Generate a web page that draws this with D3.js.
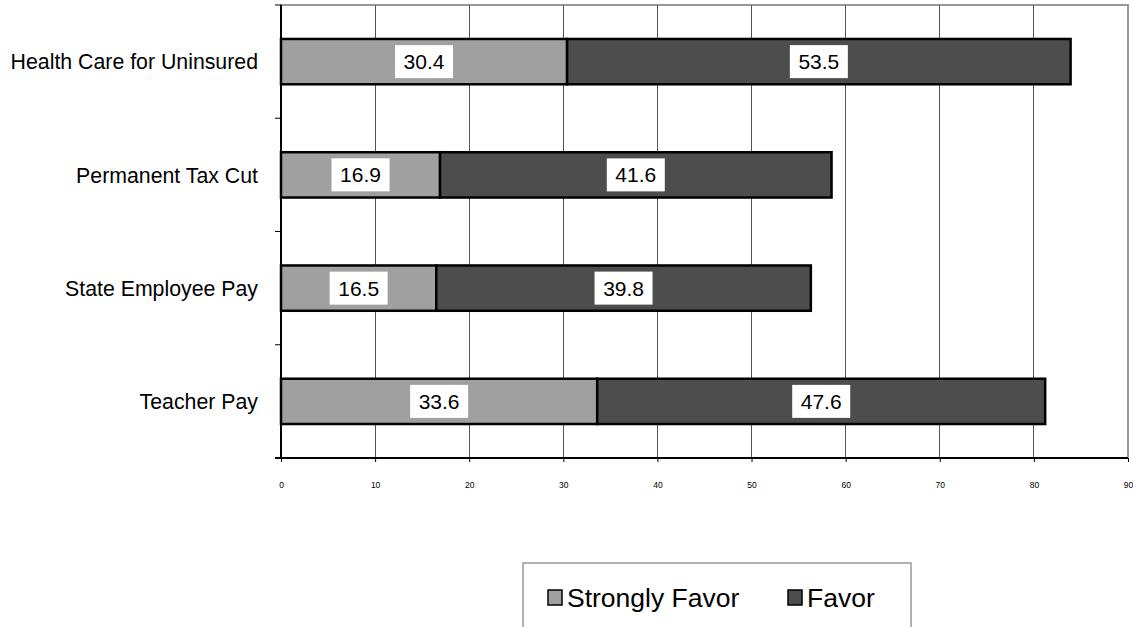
<!DOCTYPE html>
<html><head><meta charset="utf-8">
<script src="https://cdn.jsdelivr.net/npm/d3@7"></script>
<style>body{margin:0;background:#fff;} svg{display:block;font-family:"Liberation Sans",Arial,sans-serif;}</style>
</head><body><svg id="c" width="1133" height="627"></svg>
<script>
const categories = ["Health Care for Uninsured","Permanent Tax Cut","State Employee Pay","Teacher Pay"];
const stronglyFavor = [30.4, 16.9, 16.5, 33.6];
const favor = [53.5, 41.6, 39.8, 47.6];
const seriesNames = ["Strongly Favor","Favor"];
const xTicks = [0,10,20,30,40,50,60,70,80,90];
const colors = ["#a0a0a0","#4d4d4d"];

const svg = d3.select("#c");
const L = 281, R = 1128, T = 5, B = 458;
const x = d3.scaleLinear().domain([0,90]).range([L,R]);
const y = d3.scaleBand().domain(categories).range([T,B]).paddingInner(0.6).paddingOuter(0.3);
const yb = d3.scaleBand().domain(categories).range([T,B]);

// plot border
svg.append("rect").attr("x",L).attr("y",T).attr("width",R-L).attr("height",B-T)
  .attr("fill","none").attr("stroke","#999").attr("stroke-width",2);

// gridlines
svg.append("g").selectAll("line").data(xTicks.slice(1,-1)).join("line")
  .attr("x1",d=>x(d)).attr("x2",d=>x(d)).attr("y1",T).attr("y2",B)
  .attr("stroke","#555").attr("stroke-width",1).attr("shape-rendering","crispEdges");

// bars
const rows = categories.map((c,i)=>({c, vals:[stronglyFavor[i],favor[i]]}));
rows.forEach(r=>{
  let x0 = 0;
  r.vals.forEach((v,j)=>{
    svg.append("rect").attr("x",x(x0)).attr("y",y(r.c)).attr("width",x(x0+v)-x(x0)).attr("height",y.bandwidth())
      .attr("fill",colors[j]).attr("stroke","#000").attr("stroke-width",2.5);
    x0 += v;
  });
});
// labels
rows.forEach(r=>{
  let x0 = 0;
  r.vals.forEach((v,j)=>{
    const cx = x(x0+v/2), cy = y(r.c)+y.bandwidth()/2;
    svg.append("rect").attr("x",cx-29).attr("y",cy-16.5).attr("width",58).attr("height",33).attr("fill","#fff");
    svg.append("text").attr("x",cx).attr("y",cy).attr("dy","0.36em").attr("text-anchor","middle")
      .attr("font-size",21).attr("fill","#000").text(v.toFixed(1));
    x0 += v;
  });
});

// x axis
const xa = svg.append("g").attr("transform",`translate(0,${B})`)
  .call(d3.axisBottom(x).tickValues(xTicks).tickSize(4).tickPadding(20).tickFormat(d3.format("d")));
xa.select(".domain").remove();
xa.selectAll("text").attr("font-size",8.5).attr("fill","#000").attr("font-family","Liberation Sans, Arial");
xa.selectAll("line").attr("stroke","#000");
svg.append("line").attr("x1",L-6).attr("x2",R).attr("y1",B).attr("y2",B).attr("stroke","#000").attr("stroke-width",2);

// y axis
svg.append("line").attr("x1",L).attr("x2",L).attr("y1",T).attr("y2",B).attr("stroke","#000").attr("stroke-width",2);
const yTickPos = categories.map(c=>yb(c)).concat([B]);
svg.append("g").selectAll("line").data(yTickPos).join("line")
  .attr("x1",L-6).attr("x2",L).attr("y1",d=>d).attr("y2",d=>d).attr("stroke","#000").attr("stroke-width",1);
svg.append("g").selectAll("text").data(categories).join("text")
  .attr("x",258).attr("y",d=>y(d)+y.bandwidth()/2).attr("dy","0.36em").attr("text-anchor","end")
  .attr("font-size",21.3).attr("fill","#000").text(d=>d);

// legend
const lg = svg.append("g");
lg.append("rect").attr("x",523).attr("y",563).attr("width",388).attr("height",80).attr("fill","#fff").attr("stroke","#999").attr("stroke-width",1.5);
const lx = [548, 788];
seriesNames.forEach((n,i)=>{
  lg.append("rect").attr("x",lx[i]).attr("y",590).attr("width",14).attr("height",15).attr("fill",colors[i]).attr("stroke","#000").attr("stroke-width",1.5);
  lg.append("text").attr("x",lx[i]+19).attr("y",597.5).attr("dy","0.36em").attr("font-size",26.5).attr("fill","#000").text(n);
});
</script></body></html>
